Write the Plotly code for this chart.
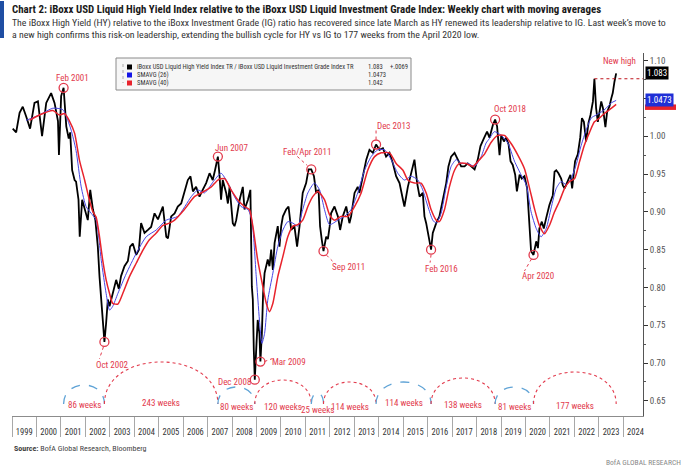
import plotly.graph_objects as go

# ---------------- data ----------------
ratio_years = [
    1999.03, 1999.17, 1999.31, 1999.44, 1999.58, 1999.74, 1999.92, 2000.06, 2000.23, 2000.40,
    2000.60, 2000.74, 2000.88, 2000.92, 2001.01, 2001.11, 2001.22, 2001.32, 2001.38, 2001.46,
    2001.56, 2001.62, 2001.72, 2001.77, 2001.87, 2002.00, 2002.10, 2002.20, 2002.31, 2002.41,
    2002.51, 2002.58, 2002.65, 2002.71, 2002.78, 2002.85, 2002.92, 2002.99, 2003.12, 2003.26,
    2003.37, 2003.46, 2003.60, 2003.74, 2003.83, 2003.94, 2004.08, 2004.19, 2004.28, 2004.42,
    2004.56, 2004.69, 2004.83, 2004.97, 2005.17, 2005.24, 2005.31, 2005.38, 2005.44, 2005.51,
    2005.65, 2005.78, 2005.92, 2006.05, 2006.19, 2006.30, 2006.40, 2006.53, 2006.67, 2006.80,
    2006.94, 2007.08, 2007.21, 2007.31, 2007.42, 2007.49, 2007.55, 2007.62, 2007.69, 2007.76,
    2007.83, 2007.90, 2008.03, 2008.10, 2008.17, 2008.31, 2008.44, 2008.51, 2008.65, 2008.75,
    2008.81, 2008.85, 2008.89, 2008.93, 2009.00, 2009.05, 2009.12, 2009.16, 2009.22, 2009.27,
    2009.33, 2009.40, 2009.46, 2009.53, 2009.60, 2009.67, 2009.74, 2009.87, 2009.94, 2010.01,
    2010.08, 2010.21, 2010.31, 2010.42, 2010.55, 2010.66, 2010.76, 2010.89, 2011.03, 2011.13,
    2011.24, 2011.35, 2011.44, 2011.54, 2011.60, 2011.67, 2011.74, 2011.85, 2011.92, 2011.99,
    2012.05, 2012.19, 2012.33, 2012.42, 2012.53, 2012.67, 2012.80, 2012.87, 2013.01, 2013.14,
    2013.21, 2013.35, 2013.49, 2013.62, 2013.76, 2013.89, 2014.03, 2014.17, 2014.30, 2014.44,
    2014.58, 2014.71, 2014.85, 2014.99, 2015.05, 2015.19, 2015.35, 2015.46, 2015.57, 2015.67,
    2015.80, 2015.87, 2015.94, 2016.01, 2016.08, 2016.14, 2016.21, 2016.35, 2016.48, 2016.62,
    2016.76, 2016.85, 2016.96, 2017.10, 2017.23, 2017.37, 2017.51, 2017.64, 2017.78, 2017.92,
    2018.05, 2018.16, 2018.30, 2018.43, 2018.53, 2018.67, 2018.76, 2018.84, 2018.94, 2019.01,
    2019.12, 2019.21, 2019.31, 2019.39, 2019.48, 2019.58, 2019.65, 2019.76, 2019.85, 2019.96,
    2020.07, 2020.14, 2020.19, 2020.23, 2020.33, 2020.37, 2020.44, 2020.51, 2020.57, 2020.67,
    2020.75, 2020.85, 2020.98, 2021.12, 2021.19, 2021.26, 2021.35, 2021.46, 2021.53, 2021.60,
    2021.73, 2021.84, 2021.91, 2021.98, 2022.03, 2022.14, 2022.24, 2022.31, 2022.39, 2022.48,
    2022.58, 2022.66, 2022.76, 2022.82, 2022.89, 2022.96, 2023.03, 2023.10, 2023.17, 2023.23,
    2023.27, 2023.34, 2023.44, 2023.51, 2023.57, 2023.64, 2023.71,
]
ratio_values = [
    1.010, 1.005, 1.031, 1.039, 1.026, 1.010, 1.044, 1.046, 1.000, 1.044,
    1.057, 1.044, 1.020, 0.975, 1.053, 1.064, 1.013, 0.997, 1.005, 0.955,
    0.942, 0.940, 0.916, 0.867, 0.916, 0.900, 0.889, 0.929, 0.903, 0.889,
    0.854, 0.814, 0.779, 0.753, 0.728, 0.753, 0.784, 0.775, 0.792, 0.810,
    0.798, 0.815, 0.828, 0.835, 0.854, 0.858, 0.843, 0.850, 0.885, 0.872,
    0.876, 0.880, 0.898, 0.890, 0.907, 0.885, 0.867, 0.865, 0.880, 0.894,
    0.898, 0.907, 0.911, 0.925, 0.942, 0.947, 0.927, 0.933, 0.920, 0.929,
    0.938, 0.951, 0.942, 0.956, 0.973, 0.947, 0.916, 0.942, 0.933, 0.925,
    0.911, 0.933, 0.885, 0.881, 0.889, 0.916, 0.933, 0.903, 0.916, 0.929,
    0.801, 0.784, 0.717, 0.678, 0.726, 0.757, 0.739, 0.702, 0.739, 0.792,
    0.819, 0.828, 0.837, 0.828, 0.850, 0.823, 0.859, 0.881, 0.854, 0.881,
    0.894, 0.903, 0.907, 0.876, 0.881, 0.854, 0.881, 0.925, 0.938, 0.956,
    0.956, 0.947, 0.925, 0.929, 0.881, 0.863, 0.848, 0.867, 0.864, 0.880,
    0.898, 0.907, 0.894, 0.876, 0.894, 0.907, 0.885, 0.894, 0.925, 0.933,
    0.925, 0.947, 0.969, 0.982, 0.978, 0.989, 0.982, 0.984, 0.973, 0.978,
    0.964, 0.947, 0.938, 0.916, 0.907, 0.933, 0.956, 0.969, 0.938, 0.920,
    0.925, 0.894, 0.885, 0.872, 0.863, 0.850, 0.872, 0.885, 0.894, 0.916,
    0.938, 0.960, 0.973, 0.978, 0.969, 0.960, 0.960, 0.964, 0.960, 0.956,
    0.969, 0.987, 0.997, 1.006, 0.998, 1.015, 1.022, 1.013, 0.975, 1.001,
    0.993, 0.998, 0.989, 0.967, 0.962, 0.949, 0.927, 0.949, 0.944, 0.947,
    0.931, 0.892, 0.881, 0.848, 0.843, 0.852, 0.861, 0.852, 0.878, 0.887,
    0.878, 0.892, 0.909, 0.922, 0.953, 0.955, 0.951, 0.944, 0.935, 0.931,
    0.940, 0.949, 0.931, 0.949, 0.967, 0.976, 0.998, 1.024, 1.019, 0.993,
    1.018, 1.028, 1.046, 1.076, 1.037, 1.019, 1.032, 1.046, 1.037, 1.019,
    1.012, 1.032, 1.040, 1.050, 1.057, 1.072, 1.083,
]

sma26_years = [
    1999.58, 2000.12, 2000.67, 2001.08, 2001.28, 2001.42, 2001.62, 2001.83, 2002.03, 2002.24,
    2002.44, 2002.65, 2002.85, 2002.99, 2003.12, 2003.33, 2003.67, 2004.08, 2004.49, 2004.90,
    2005.31, 2005.78, 2006.33, 2006.60, 2006.87, 2007.28, 2007.55, 2007.83, 2008.10, 2008.37,
    2008.65, 2008.81, 2008.99, 2009.12, 2009.22, 2009.33, 2009.46, 2009.67, 2009.87, 2010.08,
    2010.28, 2010.49, 2010.69, 2010.89, 2011.10, 2011.37, 2011.58, 2011.78, 2011.99, 2012.33,
    2012.60, 2012.87, 2013.14, 2013.42, 2013.69, 2013.96, 2014.24, 2014.51, 2014.78, 2015.05,
    2015.33, 2015.60, 2015.80, 2016.01, 2016.21, 2016.35, 2016.55, 2016.76, 2016.96, 2017.17,
    2017.37, 2017.64, 2017.92, 2018.19, 2018.39, 2018.53, 2018.73, 2019.01, 2019.28, 2019.55,
    2019.82, 2020.03, 2020.23, 2020.44, 2020.64, 2020.85, 2021.05, 2021.26, 2021.46, 2021.67,
    2021.87, 2022.07, 2022.28, 2022.48, 2022.69, 2022.89, 2023.10, 2023.30, 2023.51, 2023.71,
]
sma26_values = [
    1.021, 1.028, 1.037, 1.035, 1.021, 1.008, 0.981, 0.933, 0.907, 0.898,
    0.889, 0.836, 0.792, 0.770, 0.775, 0.792, 0.818, 0.845, 0.867, 0.876,
    0.889, 0.894, 0.920, 0.929, 0.925, 0.942, 0.951, 0.938, 0.920, 0.907,
    0.903, 0.889, 0.814, 0.757, 0.726, 0.739, 0.783, 0.819, 0.854, 0.876,
    0.887, 0.885, 0.881, 0.903, 0.925, 0.938, 0.929, 0.903, 0.883, 0.889,
    0.894, 0.903, 0.925, 0.955, 0.973, 0.982, 0.982, 0.969, 0.951, 0.942,
    0.947, 0.942, 0.929, 0.907, 0.889, 0.885, 0.898, 0.933, 0.960, 0.969,
    0.964, 0.964, 0.960, 0.973, 0.991, 0.997, 1.006, 1.001, 0.991, 0.967,
    0.949, 0.936, 0.900, 0.878, 0.867, 0.878, 0.905, 0.931, 0.940, 0.936,
    0.944, 0.962, 0.988, 1.008, 1.024, 1.028, 1.032, 1.037, 1.044, 1.0473,
]

sma40_years = [
    1999.72, 2000.12, 2000.67, 2000.94, 2001.15, 2001.35, 2001.56, 2001.76, 2001.97, 2002.17,
    2002.31, 2002.44, 2002.58, 2002.71, 2002.85, 2002.99, 2003.12, 2003.33, 2003.53, 2003.80,
    2004.08, 2004.35, 2004.62, 2004.90, 2005.17, 2005.44, 2005.65, 2006.05, 2006.46, 2006.74,
    2007.15, 2007.42, 2007.69, 2007.96, 2008.23, 2008.51, 2008.71, 2008.85, 2009.05, 2009.26,
    2009.40, 2009.53, 2009.67, 2009.87, 2010.08, 2010.28, 2010.49, 2010.69, 2010.89, 2011.10,
    2011.30, 2011.51, 2011.78, 2011.99, 2012.19, 2012.46, 2012.74, 2013.01, 2013.28, 2013.55,
    2013.83, 2014.10, 2014.44, 2014.71, 2014.99, 2015.19, 2015.46, 2015.73, 2015.94, 2016.14,
    2016.35, 2016.48, 2016.69, 2016.89, 2017.10, 2017.30, 2017.57, 2017.85, 2018.12, 2018.32,
    2018.60, 2018.87, 2019.14, 2019.42, 2019.69, 2019.96, 2020.17, 2020.37, 2020.57, 2020.78,
    2020.98, 2021.19, 2021.39, 2021.60, 2021.80, 2022.01, 2022.21, 2022.41, 2022.62, 2022.82,
    2023.03, 2023.23, 2023.44, 2023.71,
]
sma40_values = [
    1.021, 1.028, 1.034, 1.028, 1.030, 1.020, 1.004, 0.968, 0.942, 0.915,
    0.900, 0.893, 0.867, 0.836, 0.810, 0.792, 0.779, 0.778, 0.792, 0.814,
    0.832, 0.849, 0.863, 0.872, 0.882, 0.885, 0.889, 0.903, 0.920, 0.925,
    0.933, 0.942, 0.944, 0.929, 0.916, 0.907, 0.903, 0.881, 0.836, 0.801,
    0.779, 0.768, 0.779, 0.814, 0.841, 0.867, 0.881, 0.883, 0.889, 0.907,
    0.920, 0.927, 0.916, 0.896, 0.889, 0.894, 0.894, 0.907, 0.925, 0.955,
    0.973, 0.978, 0.978, 0.964, 0.955, 0.942, 0.938, 0.938, 0.925, 0.903,
    0.889, 0.887, 0.903, 0.933, 0.955, 0.964, 0.964, 0.960, 0.969, 0.976,
    0.992, 1.001, 1.001, 0.990, 0.975, 0.957, 0.931, 0.904, 0.882, 0.871,
    0.882, 0.900, 0.914, 0.931, 0.940, 0.944, 0.966, 0.988, 1.005, 1.019,
    1.024, 1.030, 1.035, 1.042,
]

event_labels = ["Feb 2001", "Oct 2002", "Jun 2007", "Dec 2008", "Mar 2009", "Feb/Apr 2011",
                "Sep 2011", "Dec 2013", "Feb 2016", "Oct 2018", "Apr 2020"]
event_years = [2001.11, 2002.78, 2007.42, 2008.93, 2009.16, 2011.24,
               2011.74, 2013.89, 2016.14, 2018.76, 2020.33]

cycle_pivots = [2001.11, 2002.78, 2007.42, 2008.93, 2011.24, 2011.74,
                2013.89, 2016.14, 2018.76, 2020.33, 2023.71]
cycle_labels = ["86 weeks", "243 weeks", "80 weeks", "120 weeks", "25 weeks",
                "114 weeks", "114 weeks", "138 weeks", "81 weeks", "177 weeks"]
cycle_kinds = ["bear", "bull", "bear", "bull", "bear", "bull", "bear", "bull", "bear", "bull"]

year_labels = list(range(1999, 2025))
y_tick_values = [0.65, 0.70, 0.75, 0.80, 0.85, 0.90, 0.95, 1.00, 1.05, 1.10]

legend_names = ["iBoxx USD Liquid High Yield Index TR / iBoxx USD Liquid Investment Grade Index TR",
                "SMAVG (26)", "SMAVG (40)"]
legend_last = ["1.083", "1.0473", "1.042"]
legend_change = "+.0069"

title_text = ("Chart 2: iBoxx USD Liquid High Yield Index relative to the iBoxx USD Liquid "
              "Investment Grade Index: Weekly chart with moving averages")
subtitle_1 = ("The iBoxx High Yield (HY) relative to the iBoxx Investment Grade (IG) ratio has recovered "
              "since late March as HY renewed its leadership relative to IG. Last week\u2019s move to")
subtitle_2 = ("a new high confirms this risk-on leadership, extending the bullish cycle for HY vs IG "
              "to 177 weeks from the April 2020 low.")

# ---------------- layout geometry / styles ----------------
W, H = 688, 472
ML, MR, MT, MB = 12, 45, 53, 56
PW, PH = W - ML - MR, H - MT - MB
PX_PER_YEAR = 24.45
X0 = 1999.0
X1 = X0 + PW / PX_PER_YEAR
Y0, Y1 = 0.63, 1.11


def dx(px):
    return px * (X1 - X0) / PW


def dy(px):
    return -px * (Y1 - Y0) / PH


def pxx(px):
    return (px - ML) / PW


def pxy(py):
    return (H - MB - py) / PH


FONT = "Liberation Sans Narrow, Arial Narrow, Roboto Condensed, Liberation Sans, Arial, sans-serif"
RED = "#e23a4c"
BLUE_ARC = "#5fa3d6"
SMA_BLUE = "#4646e6"
SMA_RED = "#e8232c"

event_text_offsets = [(9, -10), (8, 23), (14, -9), (-20, 2), (29, 0), (-4, -17),
                      (25, 16), (17, -19), (10, 19), (15, -11), (4, 21)]
event_connectors = [None, (-1, 5, -5, 17), None, None, (4, 0, 12, -3), (-14, -13, -4, -4),
                    (3, 4, 9, 10), (0, -14, 0, -4), (0, 5, -1, 13), None, (-2, 4, -9, 16)]
arc_heights_px = [19, 42, 17, 24, 11, 22, 22, 26, 17, 32]
arc_label_dy_px = [1, -1, 3, 3, 6, 3, -1, 1, 3, 2]
ARC_BASE_PY = 404

ratio_lookup = dict(zip(ratio_years, ratio_values))
event_values = [ratio_lookup[y] for y in event_years]

fig = go.Figure()
fig.add_trace(go.Scatter(x=ratio_years, y=ratio_values, mode="lines",
                         line=dict(color="#000000", width=1.8), hoverinfo="skip"))
fig.add_trace(go.Scatter(x=sma26_years, y=sma26_values, mode="lines",
                         line=dict(color=SMA_BLUE, width=1, shape="spline", smoothing=0.6),
                         hoverinfo="skip"))
fig.add_trace(go.Scatter(x=sma40_years, y=sma40_values, mode="lines",
                         line=dict(color=SMA_RED, width=1.5, shape="spline", smoothing=0.6),
                         hoverinfo="skip"))
fig.add_trace(go.Scatter(x=event_years, y=event_values, mode="markers",
                         marker=dict(symbol="circle-open", size=9, color=RED,
                                     line=dict(width=1.3, color=RED)),
                         hoverinfo="skip"))

annotations = []
shapes = []

# event labels and connectors
for lab, yr, val, (tx, ty), con in zip(event_labels, event_years, event_values,
                                        event_text_offsets, event_connectors):
    annotations.append(dict(x=yr + dx(tx), y=val + dy(ty), xref="x", yref="y", text=lab,
                            showarrow=False, font=dict(family=FONT, size=9, color=RED)))
    if con:
        shapes.append(dict(type="line", xref="x", yref="y",
                           x0=yr + dx(con[0]), y0=val + dy(con[1]),
                           x1=yr + dx(con[2]), y1=val + dy(con[3]),
                           line=dict(color=RED, width=1, dash="dot")))

# new high marker
last_year, last_val = ratio_years[-1], ratio_values[-1]
annotations.append(dict(x=last_year + dx(3), y=last_val + dy(-12), xref="x", yref="y",
                        text="New high", showarrow=False,
                        font=dict(family=FONT, size=9, color=RED)))
prior_high_idx = max(range(len(ratio_values) - 1), key=lambda i: ratio_values[i])
shapes.append(dict(type="line", xref="x", yref="y", x0=ratio_years[prior_high_idx],
                   x1=X1, y0=ratio_values[prior_high_idx], y1=ratio_values[prior_high_idx],
                   line=dict(color="#c0141e", width=1.1, dash="dot")))

# cycle arcs
arc_base = Y1 + dy(ARC_BASE_PY - MT)
for i, (lab, kind) in enumerate(zip(cycle_labels, cycle_kinds)):
    xa, xb = cycle_pivots[i], cycle_pivots[i + 1]
    k = -dy(arc_heights_px[i]) * 4.0 / 3.0
    path = f"M {xa},{arc_base} C {xa},{arc_base + k} {xb},{arc_base + k} {xb},{arc_base}"
    if kind == "bear":
        line = dict(color=BLUE_ARC, width=1.3, dash="dash")
    else:
        line = dict(color=RED, width=1.1, dash="dot")
    shapes.append(dict(type="path", xref="x", yref="y", path=path, line=line))
    annotations.append(dict(x=(xa + xb) / 2, y=arc_base + dy(arc_label_dy_px[i]), xref="x", yref="y",
                            text=lab, showarrow=False,
                            font=dict(family=FONT, size=9, color=RED)))

# right axis value boxes (SMA40 box is hidden behind the SMA26 box in the reference:
# only a thin red strip shows below it)
sma40_last = float(legend_last[2])
shapes.append(dict(type="rect", xref="paper", yref="y", x0=1 + 2 / PW, x1=1 + 33 / PW,
                   y0=sma40_last + dy(5.5), y1=sma40_last + dy(0), fillcolor="#e8232c",
                   line=dict(width=0), layer="above"))
for val, txt, bg in [(float(legend_last[1]), legend_last[1], "#1f2fd6"),
                     (float(legend_last[0]), legend_last[0], "#000000")]:
    annotations.append(dict(x=1, y=val, xref="paper", yref="y", xanchor="left", xshift=2,
                            text=txt, showarrow=False, bgcolor=bg, borderpad=1,
                            font=dict(family=FONT, size=9, color="white")))

# legend box
shapes.append(dict(type="rect", xref="paper", yref="paper", x0=pxx(116), x1=pxx(411),
                   y0=pxy(90), y1=pxy(58), fillcolor="#f6f6f6",
                   line=dict(color="#8a8a8a", width=1), layer="above"))
leg_rows_py = [67, 75, 83]
leg_colors = ["#000000", "#1414e6", "#e8232c"]
for name, last, col, py in zip(legend_names, legend_last, leg_colors, leg_rows_py):
    shapes.append(dict(type="rect", xref="paper", yref="paper", x0=pxx(127), x1=pxx(132),
                       y0=pxy(py + 2.5), y1=pxy(py - 2.5), fillcolor=col,
                       line=dict(width=0), layer="above"))
    annotations.append(dict(x=pxx(135), y=pxy(py), xref="paper", yref="paper", xanchor="left",
                            yanchor="middle", text=name, showarrow=False,
                            font=dict(family=FONT, size=6.6, color="#333")))
    annotations.append(dict(x=pxx(366), y=pxy(py), xref="paper", yref="paper", xanchor="left",
                            yanchor="middle", text=last, showarrow=False,
                            font=dict(family=FONT, size=6.6, color="#333")))
annotations.append(dict(x=pxx(388), y=pxy(leg_rows_py[0]), xref="paper", yref="paper",
                        xanchor="left", yanchor="middle", text=legend_change, showarrow=False,
                        font=dict(family=FONT, size=6.6, color="#333")))
shapes.append(dict(type="line", xref="paper", yref="paper", x0=pxx(123), x1=pxx(123),
                   y0=pxy(64), y1=pxy(83), line=dict(color="#9a9a9a", width=0.8, dash="dot"),
                   layer="above"))

# header
shapes.append(dict(type="rect", xref="paper", yref="paper", x0=pxx(0), x1=pxx(4),
                   y0=pxy(38), y1=pxy(1), fillcolor="#1f4ea3", line=dict(width=0)))
annotations.append(dict(x=pxx(10), y=pxy(9), xref="paper", yref="paper", xanchor="left",
                        yanchor="middle", text="<b>" + title_text + "</b>", showarrow=False,
                        font=dict(family=FONT, size=10.9, color="#1a1a1a")))
annotations.append(dict(x=pxx(10), y=pxy(22.5), xref="paper", yref="paper", xanchor="left",
                        yanchor="middle", text=subtitle_1, showarrow=False,
                        font=dict(family=FONT, size=9.8, color="#333")))
annotations.append(dict(x=pxx(10), y=pxy(35), xref="paper", yref="paper", xanchor="left",
                        yanchor="middle", text=subtitle_2, showarrow=False,
                        font=dict(family=FONT, size=9.8, color="#333")))
# footer
annotations.append(dict(x=pxx(12), y=pxy(449), xref="paper", yref="paper", xanchor="left",
                        yanchor="middle",
                        text="<b>Source:</b> BofA Global Research, Bloomberg", showarrow=False,
                        font=dict(family=FONT, size=8, color="#444")))
annotations.append(dict(x=pxx(683), y=pxy(462), xref="paper", yref="paper", xanchor="right",
                        yanchor="middle", text="BofA GLOBAL RESEARCH", showarrow=False,
                        font=dict(family=FONT, size=7.5, color="#888")))

# the 1.05 tick label sits behind the SMA(26) value box in the reference
y_tick_text = ["" if abs(v - float(legend_last[1])) < 0.01 else f"{v:.2f}" for v in y_tick_values]

fig.update_layout(
    width=W, height=H,
    margin=dict(l=ML, r=MR, t=MT, b=MB, pad=0),
    paper_bgcolor="white", plot_bgcolor="white",
    showlegend=False,
    font=dict(family=FONT, color="#333"),
    shapes=shapes, annotations=annotations,
)
fig.update_xaxes(
    range=[X0, X1], showgrid=False, zeroline=False,
    showline=True, linecolor="#8c8c8c", linewidth=1,
    tickvals=[y + 0.5 for y in year_labels], ticktext=[str(y) for y in year_labels],
    ticks="", ticklabelstandoff=8,
    tickfont=dict(family=FONT, size=8.5, color="#333"),
    minor=dict(tickmode="array", tickvals=year_labels, ticks="outside", ticklen=20,
               tickcolor="#a8a8a8", tickwidth=1),
)
fig.update_yaxes(
    range=[Y0, Y1], side="right", showgrid=False, zeroline=False,
    showline=True, linecolor="#555", linewidth=1,
    tickvals=y_tick_values, ticktext=y_tick_text,
    ticks="outside", ticklen=4, tickcolor="#333",
    tickfont=dict(family=FONT, size=9, color="#555"),
    minor=dict(tickmode="array", tickvals=[v + 0.025 for v in y_tick_values[:-1]],
               ticks="outside", ticklen=2, tickcolor="#555"),
)

fig.write_html("out.html", config={"displayModeBar": False},
               post_script="document.body.style.margin='0px';")
